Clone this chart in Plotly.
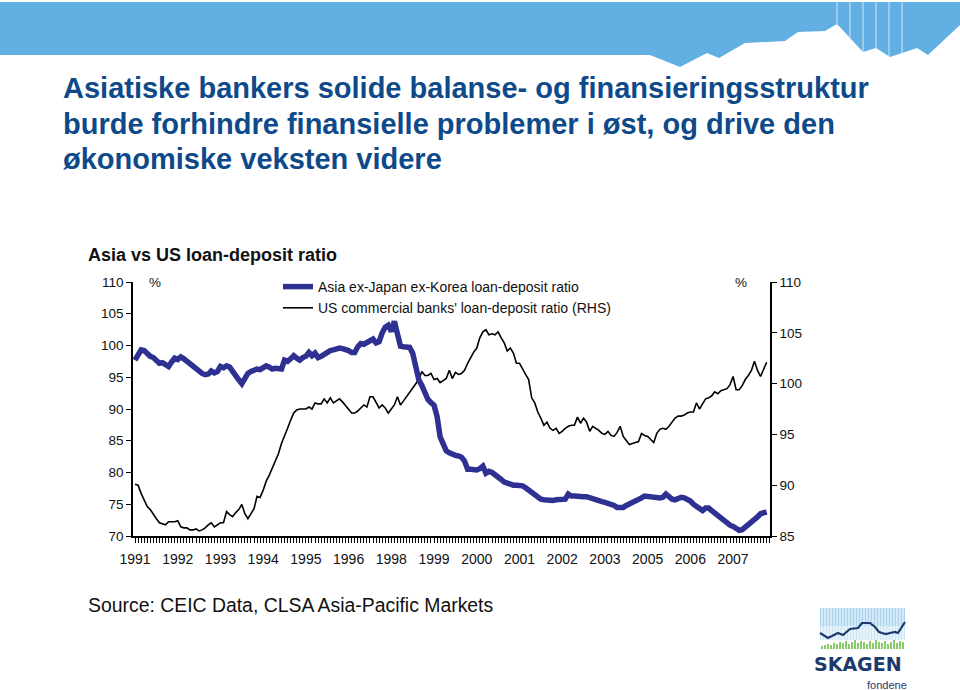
import plotly.graph_objects as go

# ---------------- data (monthly, Jan 1991 - Apr 2008) ----------------
asia_ldr = [
    97.7, 98.5, 99.3, 99.2, 98.7, 98.3, 98.1, 97.6, 97.2, 97.3, 96.9, 96.7,
    97.4, 98.0, 97.8, 98.2, 97.9, 97.5, 97.1, 96.7, 96.2, 95.9, 95.6, 95.4,
    95.5, 96.0, 95.7, 95.9, 96.7, 96.5, 96.8, 96.6, 95.8, 95.2, 94.6, 94.0,
    94.9, 95.6, 95.9, 96.2, 96.3, 96.2, 96.4, 96.8, 96.6, 96.3, 96.4, 96.3,
    96.3, 97.7, 97.5, 97.9, 98.4, 98.0, 97.7, 98.1, 98.3, 98.9, 98.4, 98.8,
    98.1, 98.3, 98.6, 99.0, 99.2, 99.3, 99.5, 99.6, 99.5, 99.4, 99.2, 98.9,
    98.9, 99.8, 100.3, 100.2, 100.4, 100.6, 101.0, 100.4, 100.6, 102.0, 102.9, 103.2,
    102.2, 103.8, 101.4, 99.9, 99.8, 99.8, 99.7, 98.8, 97.0, 94.6, 93.7, 92.4,
    91.5, 91.0, 90.6, 88.8, 85.6, 84.5, 83.4, 83.1, 82.8, 82.7, 82.6, 82.4,
    81.8, 80.5, 80.5, 80.4, 80.4, 80.6, 81.0, 79.9, 80.2, 80.0, 79.7, 79.2,
    78.9, 78.5, 78.3, 78.1, 78.0, 78.0, 78.0, 77.9, 77.6, 77.2, 76.9, 76.5,
    76.0, 75.8, 75.7, 75.6, 75.6, 75.6, 75.7, 75.7, 75.6, 75.8, 76.6, 76.3,
    76.3, 76.2, 76.3, 76.2, 76.2, 76.0, 75.9, 75.7, 75.6, 75.4, 75.3, 75.2,
    75.0, 74.8, 74.5, 74.4, 74.5, 74.8, 75.0, 75.2, 75.5, 75.8, 76.0, 76.3,
    76.2, 76.1, 76.0, 76.1, 76.0, 76.1, 76.6, 76.2, 75.8, 75.7, 75.9, 76.1,
    76.0, 75.8, 75.5, 75.0, 74.6, 74.2, 74.0, 74.4, 74.4, 74.0, 73.6, 73.3,
    72.9, 72.5, 72.1, 71.7, 71.5, 71.3, 70.9, 71.0, 71.4, 71.6, 72.0, 72.6,
    73.0, 73.5, 73.7, 73.8,
]

us_ldr = [
    90.1, 90.0, 89.2, 88.5, 87.9, 87.6, 87.1, 86.7, 86.3, 86.2, 86.1, 86.4,
    86.4, 86.4, 86.5, 85.9, 85.8, 85.8, 85.6, 85.6, 85.7, 85.5, 85.6, 85.8,
    86.1, 86.3, 85.9, 86.1, 86.3, 86.3, 87.4, 87.1, 86.9, 87.3, 87.6, 88.1,
    87.2, 86.7, 87.2, 87.7, 88.9, 88.8, 89.5, 90.4, 91.0, 91.7, 92.4, 93.1,
    94.1, 94.8, 95.6, 96.4, 97.1, 97.4, 97.5, 97.5, 97.5, 97.7, 97.5, 98.1,
    98.0, 98.0, 98.5, 98.1, 98.6, 98.1, 98.3, 98.5, 98.2, 97.8, 97.4, 97.1,
    97.1, 97.3, 97.6, 97.9, 97.7, 98.7, 98.7, 98.2, 97.6, 97.9, 97.6, 97.1,
    97.5, 97.9, 98.7, 97.9, 98.3, 98.7, 99.2, 99.6, 100.0, 100.4, 101.2, 100.8,
    100.8, 101.0, 100.4, 100.5, 100.1, 100.3, 100.5, 101.3, 100.5, 101.1, 100.9, 101.0,
    101.3, 102.0, 102.6, 103.1, 103.5, 104.5, 105.1, 105.3, 104.8, 104.9, 104.8, 105.1,
    104.5, 104.0, 103.2, 103.5, 103.0, 102.0, 102.0, 101.4, 100.9, 100.4, 98.6, 98.1,
    97.2, 96.6, 95.9, 96.2, 95.6, 95.4, 95.6, 95.1, 95.3, 95.6, 95.8, 95.9,
    95.9, 96.7, 96.1, 96.6, 96.2, 95.3, 95.8, 95.6, 95.4, 95.1, 95.0, 95.3,
    94.9, 94.8, 95.2, 95.8, 94.8, 94.4, 94.0, 94.1, 94.2, 94.3, 95.1, 94.9,
    94.8, 94.5, 94.2, 95.1, 95.5, 95.6, 95.5, 95.8, 96.2, 96.6, 96.8, 96.8,
    96.9, 97.1, 97.2, 97.2, 98.1, 97.5, 98.0, 98.5, 98.6, 98.8, 99.2, 99.0,
    99.3, 99.4, 99.5, 99.9, 100.7, 99.4, 99.4, 99.8, 100.4, 100.8, 101.3, 102.2,
    101.3, 100.7, 101.5, 102.1,
]

# category axis: one category per month, a label every 14th month (as in the source)
month_index = list(range(len(asia_ldr)))
tick_labels = ["1991", "1992", "1993", "1994", "1995", "1996", "1998", "1999",
               "2000", "2001", "2002", "2003", "2005", "2006", "2007"]
label_step = 14
tick_positions = month_index[::label_step][:len(tick_labels)]

asia_name = "Asia ex-Japan ex-Korea loan-deposit ratio"
us_name = "US commercial banks' loan-deposit ratio (RHS)"

# ---------------- layout geometry ----------------
W, H = 960, 690
PL, PR, PT, PB = 133, 770, 282, 536   # plot area in pixels


def px(x):
    return (x - PL) / (PR - PL)


def py(y):
    return (PB - y) / (PB - PT)


FONT = "Liberation Sans, Arial, Helvetica, sans-serif"
TITLE_BLUE = "#0E4A8A"
BANNER = "#62B0E3"
NAVY = "#1C3A6C"

fig = go.Figure()

fig.add_trace(go.Scatter(
    x=month_index, y=us_ldr, name=us_name, mode="lines",
    line=dict(color="black", width=1.6), yaxis="y", legendrank=2,
))
fig.add_trace(go.Scatter(
    x=month_index, y=asia_ldr, name=asia_name, mode="lines",
    line=dict(color="#2F3192", width=5.5), yaxis="y2", legendrank=1,
))

axis_common = dict(
    showline=True, linecolor="black", linewidth=1.6, showgrid=False,
    zeroline=False, ticks="outside", ticklen=5, tickwidth=1.3, tickcolor="black",
    tickfont=dict(family=FONT, size=13.5, color="#111"), dtick=5,
)

fig.update_layout(
    width=W, height=H,
    margin=dict(l=PL, r=W - PR, t=PT, b=H - PB),
    paper_bgcolor="white", plot_bgcolor="white",
    showlegend=True,
    legend=dict(
        x=px(278), y=py(271), xanchor="left", yanchor="top",
        bgcolor="rgba(0,0,0,0)", font=dict(family=FONT, size=14, color="#111"),
        tracegroupgap=0, itemwidth=30,
    ),
    xaxis=dict(
        range=[-0.66, 208.1], showline=True, linecolor="black", linewidth=1.6,
        showgrid=False, zeroline=False,
        tickmode="array", tickvals=tick_positions, ticktext=tick_labels,
        ticks="outside", ticklen=5, tickwidth=1, tickcolor="black",
        tickfont=dict(family=FONT, size=14, color="#111"),
        ticklabelstandoff=4,
        minor=dict(dtick=1, tick0=0, ticks="outside", ticklen=5, tickwidth=1,
                   tickcolor="black"),
    ),
    yaxis=dict(range=[85, 110], side="right", **axis_common),
    yaxis2=dict(range=[70, 110], side="left", overlaying="y", anchor="x",
                **axis_common),
)

annotations = []
# title lines
title_lines = [
    ("Asiatiske bankers solide balanse- og finansieringsstruktur", 88),
    ("burde forhindre finansielle problemer i øst, og drive den", 124),
    ("økonomiske veksten videre", 159),
]
for txt, yc in title_lines:
    annotations.append(dict(
        text=f"<b>{txt}</b>", x=px(61), y=py(yc), xref="paper", yref="paper",
        xanchor="left", yanchor="middle", showarrow=False,
        font=dict(family=FONT, size=29, color=TITLE_BLUE),
    ))
annotations += [
    dict(text="<b>Asia vs US loan-deposit ratio</b>", x=px(86), y=py(255),
         xref="paper", yref="paper", xanchor="left", yanchor="middle",
         showarrow=False, font=dict(family=FONT, size=18, color="#111")),
    dict(text="%", x=px(147), y=py(282), xref="paper", yref="paper",
         xanchor="left", yanchor="middle", showarrow=False,
         font=dict(family=FONT, size=13.5, color="#111")),
    dict(text="%", x=px(749), y=py(282), xref="paper", yref="paper",
         xanchor="right", yanchor="middle", showarrow=False,
         font=dict(family=FONT, size=13.5, color="#111")),
    dict(text="Source: CEIC Data, CLSA Asia-Pacific Markets", x=px(86), y=py(605),
         xref="paper", yref="paper", xanchor="left", yanchor="middle",
         showarrow=False, font=dict(family=FONT, size=19.4, color="#111")),
    dict(text="<b>SKAGEN</b>", x=px(858), y=py(676), xref="paper", yref="paper",
         xanchor="center", yanchor="bottom", showarrow=False, borderpad=0,
         font=dict(family="DejaVu Sans, sans-serif", size=19, color=NAVY)),
    dict(text="fondene", x=px(908), y=py(678), xref="paper", yref="paper",
         xanchor="right", yanchor="top", showarrow=False, borderpad=0,
         font=dict(family=FONT, size=11, color=NAVY)),
]

shapes = []


def path_from(points, close=True):
    s = "M " + " L ".join(f"{px(a):.5f},{py(b):.5f}" for a, b in points)
    return s + (" Z" if close else "")


# top banner with mountain edge
banner_pts = [(0, 2), (960, 2), (960, 25), (928, 55), (917, 48), (890, 57),
              (876, 48), (863, 52), (837, 24), (825, 31), (798, 32), (785, 41),
              (745, 43), (719, 58), (707, 53), (680, 67), (650, 55), (0, 55)]
shapes.append(dict(type="path", path=path_from(banner_pts), xref="paper",
                   yref="paper", fillcolor=BANNER, line=dict(width=0),
                   layer="below"))
for xl, yb in [(837, 24), (850, 38), (863, 52), (876, 48), (889, 56), (902, 53)]:
    shapes.append(dict(type="line", x0=px(xl), x1=px(xl), y0=py(2), y1=py(yb),
                       xref="paper", yref="paper",
                       line=dict(color="#CFE8F8", width=1)))

# logo: stripes block
shapes.append(dict(type="rect", x0=px(820), x1=px(905), y0=py(640), y1=py(608),
                   xref="paper", yref="paper", fillcolor="#A8D2EE",
                   line=dict(width=0)))
shapes.append(dict(type="rect", x0=px(820), x1=px(905), y0=py(640), y1=py(626),
                   xref="paper", yref="paper", fillcolor="#CDE6F6",
                   line=dict(width=0)))
stripe = " ".join(f"M {px(x):.5f},{py(608):.5f} L {px(x):.5f},{py(640):.5f}"
                  for x in range(822, 905, 3))
shapes.append(dict(type="path", path=stripe, xref="paper", yref="paper",
                   line=dict(color="white", width=1)))
green_h = [3, 4, 5, 4, 6, 5, 7, 6, 8, 5, 7, 9, 6, 8, 7, 5, 8, 6, 9, 7, 6, 8, 5,
           7, 9, 6, 8, 7]
green = " ".join(f"M {px(822 + 3 * i):.5f},{py(649):.5f} L {px(822 + 3 * i):.5f},{py(649 - h):.5f}"
                 for i, h in enumerate(green_h))
shapes.append(dict(type="path", path=green, xref="paper", yref="paper",
                   line=dict(color="#6CBF46", width=1.6)))
logo_line = [(820, 633), (828, 638), (838, 633), (843, 635), (850, 629),
             (858, 628), (862, 623), (870, 623), (875, 627), (879, 632),
             (882, 633), (886, 634), (890, 633), (895, 632), (898, 633),
             (905, 622)]
shapes.append(dict(type="path", path=path_from(logo_line, close=False),
                   xref="paper", yref="paper", line=dict(color=NAVY, width=2.2)))

fig.update_layout(annotations=annotations, shapes=shapes)

fig.write_html("out.html")
